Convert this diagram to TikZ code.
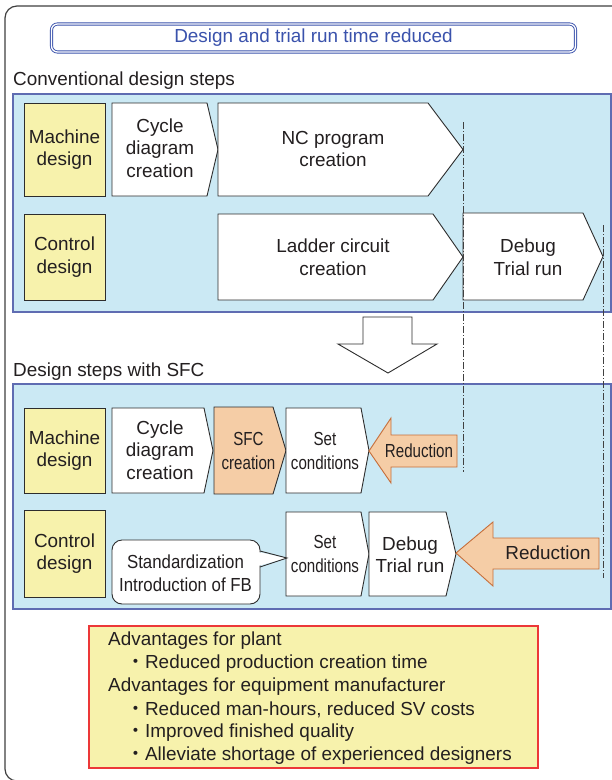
\documentclass[tikz,border=0pt]{standalone}
\usepackage{fontspec}
\setmainfont{Liberation Sans}
\newfontfamily\cjk{Noto Sans CJK JP}
\usepackage{graphicx}
\usetikzlibrary{calc}
\definecolor{panelfill}{RGB}{203,233,244}
\definecolor{paneldraw}{RGB}{95,108,178}
\definecolor{yel}{RGB}{247,242,172}
\definecolor{sfcor}{RGB}{245,205,166}
\definecolor{ordraw}{RGB}{198,110,58}
\definecolor{redb}{RGB}{236,56,56}
\definecolor{titleblue}{RGB}{58,82,172}
\definecolor{textc}{RGB}{35,31,32}
\definecolor{boxdraw}{RGB}{45,45,45}
\newcommand\narrowtxt[1]{\scalebox{0.8}[1]{#1}}
\newcommand\calltxt[1]{\scalebox{0.89}[1]{#1}}
\newcommand\pent[6]{%
  \filldraw[fill=#6, draw=boxdraw, line width=0.9pt, line join=miter]
    (#1,#2) -- (#3,#2) -- (#4,{(#2+#5)/2}) -- (#3,#5) -- (#1,#5) -- cycle;}
\begin{document}
\begin{tikzpicture}[x=1pt,y=-1pt,
  txt/.style={align=center, inner sep=0pt, text=textc, font=\fontsize{18.9}{22.5}\selectfont},
  ltxt/.style={anchor=west, inner sep=0pt, text=textc, font=\fontsize{18.9}{22.5}\selectfont},
  panel/.style={fill=panelfill, draw=paneldraw, line width=1.1pt},
  ybox/.style={fill=yel, draw=boxdraw, line width=0.9pt},
  dashdot/.style={draw=black!75, line width=0.7pt, dash pattern=on 7pt off 2pt on 1pt off 2pt},
  redarrow/.style={fill=sfcor, draw=ordraw, line width=0.9pt, line join=miter},
  callout/.style={fill=white, draw=boxdraw, line width=0.9pt}]
\useasboundingbox (0,0) rectangle (612,780);
\clip (0,0) rectangle (612,780);
\fill[white] (0,0) rectangle (612,780);
% outer frame
\draw[rounded corners=12pt, line width=1.2pt, draw=black!75] (5,6) rectangle (630,781);
% title
\node[txt, text=titleblue, draw=titleblue, double=white, double distance=1.3pt, line width=0.9pt,
  rounded corners=6pt, minimum width=524pt, minimum height=28pt] (title) at (313.5,38) {Design and trial run time reduced};
% section labels
\node[ltxt] (conv) at (13,81) {Conventional design steps};
\node[ltxt] (sfcsec) at (13,372) {Design steps with SFC};
% panels
\draw[panel] (13,94) rectangle (611,312);
\draw[panel] (13,384) rectangle (611,609);
% top panel boxes
\draw[ybox] (24,103) rectangle (105,196);
\draw[ybox] (24,214) rectangle (105,300);
\pent{112}{103}{207}{218}{196}{white}
\pent{218}{103}{428}{463}{196}{white}
\pent{218}{214}{433}{463}{300}{white}
\pent{463}{213}{583}{603}{300}{white}
\node[txt] (md1) at (64.5,149.5) {Machine\\design};
\node[txt] (cd1) at (64.5,257) {Control\\design};
\node[txt] (cyc1) at (160,148) {Cycle\\diagram\\creation};
\node[txt] (nc) at (333,149) {NC program\\creation};
\node[txt] (lad) at (333,257) {Ladder circuit\\creation};
\node[txt] (dbg1) at (528,257) {Debug\\Trial run};
% hollow down arrow
\draw[fill=white, draw=boxdraw, line width=0.9pt, line join=miter]
  (363,317) -- (412,317) -- (412,344) -- (437,344) -- (388,373) -- (338,344) -- (363,344) -- cycle;
% bottom panel boxes
\draw[ybox] (24,408) rectangle (105,493);
\draw[ybox] (24,510) rectangle (105,597);
\pent{112}{408}{204}{213}{493}{white}
\pent{214}{407}{273}{286}{494}{sfcor}
\pent{286}{408}{361}{369}{493}{white}
\pent{286}{512}{361}{369}{596}{white}
\pent{369}{512}{446}{456}{596}{white}
\node[txt] (md2) at (64.5,450.5) {Machine\\design};
\node[txt] (cd2) at (64.5,553.5) {Control\\design};
\node[txt] (cyc2) at (160,450) {Cycle\\diagram\\creation};
\node[txt, font=\fontsize{18.9}{24}\selectfont] (sfc) at (248.5,451) {\narrowtxt{SFC}\\\narrowtxt{creation}};
\node[txt, font=\fontsize{18.9}{23.5}\selectfont] (set1) at (325,451) {\narrowtxt{Set}\\\narrowtxt{conditions}};
\node[txt, font=\fontsize{18.9}{23.5}\selectfont] (set2) at (325,554) {\narrowtxt{Set}\\\narrowtxt{conditions}};
\node[txt] (dbg2) at (410,554.5) {Debug\\Trial run};
% reduction arrows
\draw[redarrow] (457,435) -- (391,435) -- (391,418) -- (369,451) -- (391,483) -- (391,467) -- (457,467) -- cycle;
\node[txt] (red1) at (419,451) {\narrowtxt{Reduction}};
\draw[redarrow] (599,538) -- (493,538) -- (493,522) -- (456,553) -- (493,586) -- (493,569) -- (599,569) -- cycle;
\node[txt] (red2) at (548,553) {Reduction};
% callout
\draw[callout, rounded corners=10pt] (112,540) rectangle (260,604);
\fill[white] (258,552) -- (287,558) -- (258,566) -- cycle;
\draw[draw=boxdraw, line width=0.9pt, line join=miter] (260,551) -- (287,558) -- (260,567);
\node[txt] (std) at (185.5,573) {\calltxt{Standardization}\\\calltxt{Introduction of FB}};
% dash-dot lines
\coordinate (d1a) at (463,122);
\coordinate (d1b) at (463,472);
\coordinate (d2a) at (603,225);
\coordinate (d2b) at (603,578);
\draw[dashdot] (d1a) -- (d1b);
\draw[dashdot] (d2a) -- (d2b);
% advantages box
\draw[fill=yel, draw=redb, line width=1.3pt] (89,626) rectangle (538,768);
\node[ltxt] (a1) at (108,641) {Advantages for plant};
\node[ltxt] (a2) at (126,663.5) {{\cjk ・}Reduced production creation time};
\node[ltxt] (a3) at (108,687) {Advantages for equipment manufacturer};
\node[ltxt] (a4) at (126,709.5) {{\cjk ・}Reduced man-hours, reduced SV costs};
\node[ltxt] (a5) at (126,732.5) {{\cjk ・}Improved finished quality};
\node[ltxt] (a6) at (126,755.5) {{\cjk ・}Alleviate shortage of experienced designers};
\end{tikzpicture}
\end{document}
